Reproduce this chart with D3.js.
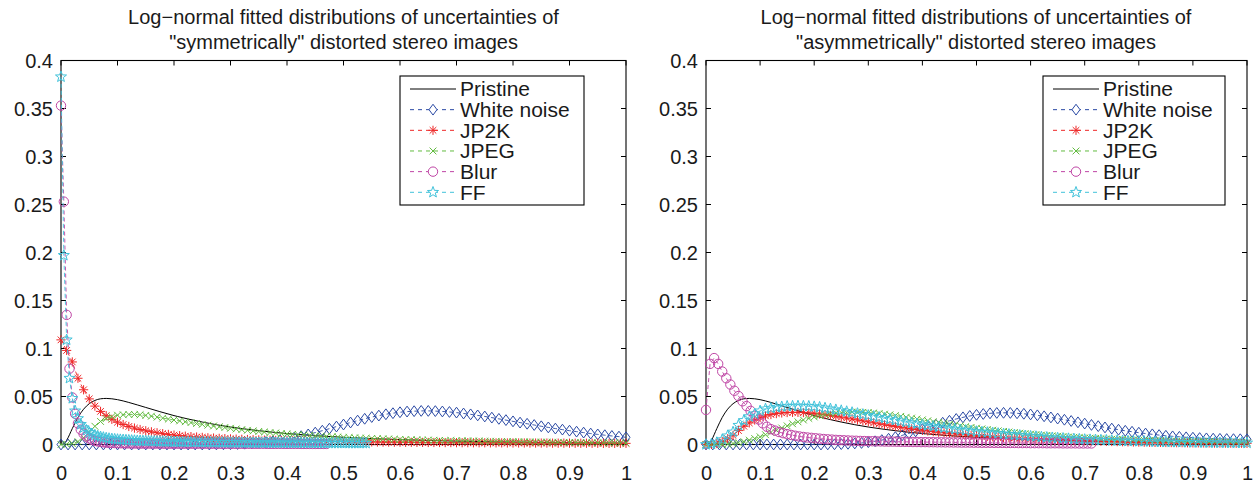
<!DOCTYPE html>
<html><head><meta charset="utf-8">
<script src="https://cdn.jsdelivr.net/npm/d3@7"></script>
<style>
body{margin:0;background:#fff}
text{font-family:"Liberation Sans",Arial,Helvetica,sans-serif;fill:#1a1a1a}
</style></head>
<body><svg id="chart" width="1255" height="487"></svg>
<script>
// ---------------- data ----------------
const seriesNames = ["Pristine","White noise","JP2K","JPEG","Blur","FF"];
const panelTitles = [
  ["Log\u2212normal fitted distributions of uncertainties of", "\"symmetrically\" distorted stereo images"],
  ["Log\u2212normal fitted distributions of uncertainties of", "\"asymmetrically\" distorted stereo images"]
];
const xTicks = [0,0.1,0.2,0.3,0.4,0.5,0.6,0.7,0.8,0.9,1];
const xTickLabels = ["0","0.1","0.2","0.3","0.4","0.5","0.6","0.7","0.8","0.9","1"];
const yTicks = [0,0.05,0.1,0.15,0.2,0.25,0.3,0.35,0.4];
const yTickLabels = ["0","0.05","0.1","0.15","0.2","0.25","0.3","0.35","0.4"];

// Pristine (solid line, no markers) - same in both panels
const pristineX = [0,0.005,0.01,0.02,0.03,0.04,0.05,0.06,0.07,0.08,0.1,0.12,0.15,0.2,0.25,0.3,0.35,0.4,0.5,0.6,0.7,0.8,0.9,1.0];
const pristineY = [0,0.0007,0.0044,0.0166,0.0282,0.0368,0.0425,0.0459,0.0476,0.048,0.0467,0.0438,0.0386,0.0301,0.0234,0.0182,0.0144,0.0114,0.0075,0.0051,0.0035,0.0025,0.0019,0.0014];

// sampling steps of the marker series [White noise, JP2K, JPEG, Blur, FF]
const symSteps  = [0.0125, 0.01, 0.01, 0.005, 0.005];
const asymSteps = [0.0125, 0.01, 0.01, 0.0075, 0.01];

// ---- "symmetrically" distorted ----
const symWhiteNoise = [
0,0,0,0,0,0,0,0,0,0,
0,0,0,0,0,0,0,0,0,0,
0,0,0.0001,0.0002,0.0003,0.0005,0.0008,0.0012,0.0018,0.0025,
0.0033,0.0044,0.0056,0.0071,0.0087,0.0105,0.0124,0.0144,0.0165,0.0187,
0.0208,0.0229,0.0249,0.0268,0.0286,0.0301,0.0315,0.0326,0.0336,0.0343,
0.0347,0.035,0.035,0.0348,0.0344,0.0339,0.0332,0.0323,0.0314,0.0303,
0.0292,0.028,0.0267,0.0254,0.0241,0.0228,0.0216,0.0203,0.019,0.0178,
0.0166,0.0155,0.0144,0.0134,0.0124,0.0114,0.0105,0.0097,0.0089,0.0082,
0.0075];
const symJP2K = [
0.109,0.098,0.086,0.069,0.057,0.0475,0.04,0.0345,0.03,0.0262,
0.0232,0.0208,0.0188,0.0171,0.0156,0.0143,0.0132,0.0122,0.0113,0.0105,
0.0098,0.0092,0.0087,0.0082,0.0078,0.0074,0.007,0.0067,0.0064,0.0061,
0.0058,0.0056,0.0054,0.0052,0.005,0.0048,0.0046,0.0045,0.0043,0.0042,
0.004,0.0039,0.0038,0.0037,0.0036,0.0035,0.0034,0.0033,0.0032,0.0031,
0.003,0.0029,0.0029,0.0028,0.0027,0.0027,0.0026,0.0025,0.0025,0.0024,
0.0024,0.0023,0.0023,0.0022,0.0022,0.0021,0.0021,0.0021,0.002,0.002,
0.0019,0.0019,0.0019,0.0018,0.0018,0.0018,0.0017,0.0017,0.0017,0.0016,
0.0016,0.0016,0.0016,0.0015,0.0015,0.0015,0.0015,0.0014,0.0014,0.0014,
0.0014,0.0013,0.0013,0.0013,0.0013,0.0013,0.0012,0.0012,0.0012,0.0012,
0.0012];
const symJPEG = [
0,0.0002,0.001,0.003,0.007,0.013,0.019,0.024,0.027,0.029,
0.0305,0.031,0.0313,0.0313,0.031,0.0303,0.0295,0.0285,0.0275,0.0265,
0.0255,0.0246,0.0237,0.0228,0.0219,0.021,0.0201,0.0193,0.0185,0.0177,
0.0169,0.0162,0.0155,0.0148,0.0142,0.0136,0.013,0.0125,0.012,0.0115,
0.011,0.0106,0.0102,0.0098,0.0094,0.009,0.0087,0.0084,0.0081,0.0078,
0.0075,0.0072,0.007,0.0067,0.0065,0.0063,0.0061,0.0059,0.0057,0.0055,
0.0053,0.0051,0.005,0.0048,0.0047,0.0046,0.0044,0.0043,0.0042,0.0041,
0.004,0.0039,0.0038,0.0037,0.0036,0.0035,0.0034,0.0033,0.0032,0.0031,
0.003,0.0029,0.0028,0.0027,0.0026,0.0025,0.0025,0.0024,0.0023,0.0022,
0.0022,0.0021,0.002,0.002,0.0019,0.0018,0.0018,0.0017,0.0017,0.0016,
0.0016];
const symBlur = [
0.353,0.253,0.135,0.079,0.049,0.032,0.022,0.0155,0.0112,0.0083,
0.0063,0.0049,0.0039,0.0032,0.0027,0.0023,0.002,0.0018,0.0016,0.0015,
0.0014,0.0013,0.0013,0.0012,0.0012,0.0011,0.0011,0.0011,0.001,0.001,
0.001,0.001,0.001,0.001,0.001,0.001,0.0009,0.0009,0.0009,0.0009,
0.0009,0.0009,0.0009,0.0009,0.0009,0.0009,0.0009,0.0009,0.0009,0.0009,
0.0009,0.0009,0.0009,0.0009,0.0008,0.0008,0.0008,0.0008,0.0008,0.0008,
0.0008,0.0008,0.0008,0.0008,0.0008,0.0008,0.0008,0.0008,0.0008,0.0008,
0.0008,0.0008,0.0008,0.0007,0.0007,0.0007,0.0007,0.0007,0.0007,0.0007,
0.0007,0.0007,0.0007,0.0007,0.0007,0.0006,0.0006,0.0006,0.0006,0.0006,
0.0006,0.0006,0.0006,0.0006,0.0006];
const symFF = [
0.383,0.197,0.109,0.069,0.048,0.035,0.027,0.021,0.0175,0.0148,
0.0125,0.011,0.0098,0.0088,0.008,0.0073,0.0067,0.0062,0.0058,0.0055,
0.0052,0.005,0.0048,0.0046,0.0044,0.0042,0.0041,0.0039,0.0038,0.0037,
0.0036,0.0035,0.0034,0.0033,0.0032,0.0031,0.0031,0.003,0.0029,0.0029,
0.0028,0.0028,0.0027,0.0027,0.0026,0.0026,0.0025,0.0025,0.0025,0.0024,
0.0024,0.0023,0.0023,0.0023,0.0022,0.0022,0.0022,0.0021,0.0021,0.0021,
0.0021,0.002,0.002,0.002,0.002,0.0019,0.0019,0.0019,0.0019,0.0018,
0.0018,0.0018,0.0018,0.0018,0.0017,0.0017,0.0017,0.0017,0.0017,0.0016,
0.0016,0.0016,0.0016,0.0016,0.0016,0.0015,0.0015,0.0015,0.0015,0.0015,
0.0015,0.0014,0.0014,0.0014,0.0014,0.0014,0.0014,0.0014,0.0014,0.0014,
0.0014,0.0014,0.0013,0.0013,0.0013,0.0013,0.0013,0.0013,0.0013];

// ---- "asymmetrically" distorted ----
const asymWhiteNoise = [
0,0,0,0,0,0,0,0,0,0,
0,0,0,0,0,0,0,0,0.0001,0.0002,
0.0004,0.0007,0.0011,0.0016,0.0024,0.0034,0.0046,0.006,0.0077,0.0095,
0.0116,0.0137,0.016,0.0183,0.0205,0.0227,0.0247,0.0266,0.0283,0.0297,
0.0309,0.0318,0.0325,0.0329,0.033,0.0329,0.0325,0.032,0.0313,0.0304,
0.0294,0.0282,0.027,0.0258,0.0245,0.0231,0.0218,0.0204,0.0191,0.0178,
0.0166,0.0154,0.0143,0.0133,0.0123,0.0114,0.0106,0.0098,0.0091,0.0085,
0.008,0.0075,0.0071,0.0067,0.0064,0.0061,0.0059,0.0057,0.0056,0.0055,
0.0054];
const asymJP2K = [
0,0.0002,0.001,0.003,0.006,0.0095,0.0145,0.019,0.0225,0.0255,
0.028,0.0298,0.0312,0.0322,0.0329,0.0333,0.0335,0.0335,0.0333,0.0329,
0.0324,0.0318,0.0311,0.0303,0.0294,0.0285,0.0276,0.0266,0.0256,0.0246,
0.0236,0.0226,0.0216,0.0206,0.0197,0.0188,0.0179,0.0171,0.0163,0.0155,
0.0148,0.0141,0.0134,0.0128,0.0122,0.0116,0.0111,0.0106,0.0101,0.0096,
0.0092,0.0088,0.0084,0.008,0.0076,0.0073,0.007,0.0067,0.0064,0.0061,
0.0058,0.0056,0.0053,0.0051,0.0049,0.0047,0.0045,0.0043,0.0041,0.004,
0.0038,0.0036,0.0035,0.0034,0.0032,0.0031,0.003,0.0029,0.0027,0.0026,
0.0025,0.0024,0.0023,0.0022,0.0022,0.0021,0.002,0.0019,0.0019,0.0018,
0.0017,0.0017,0.0016,0.0016,0.0015,0.0015,0.0014,0.0014,0.0013,0.0013,
0.0012];
const asymJPEG = [
0,0,0,0.0001,0.0004,0.001,0.0018,0.003,0.0045,0.0062,
0.008,0.0102,0.0125,0.0148,0.0172,0.0194,0.0216,0.0236,0.0255,0.0272,
0.0287,0.03,0.0311,0.032,0.0327,0.0332,0.0335,0.0337,0.0337,0.0335,
0.0332,0.0328,0.0322,0.0316,0.0309,0.0301,0.0293,0.0284,0.0275,0.0266,
0.0257,0.0247,0.0238,0.0229,0.022,0.0211,0.0202,0.0194,0.0186,0.0178,
0.017,0.0163,0.0156,0.0149,0.0142,0.0136,0.013,0.0124,0.0118,0.0113,
0.0108,0.0103,0.0098,0.0094,0.009,0.0086,0.0082,0.0078,0.0075,0.0072,
0.0069,0.0066,0.0063,0.006,0.0058,0.0055,0.0053,0.0051,0.0049,0.0047,
0.0045,0.0043,0.0041,0.004,0.0038,0.0037,0.0035,0.0034,0.0032,0.0031,
0.003,0.0029,0.0028,0.0027,0.0026,0.0025,0.0024,0.0023,0.0022,0.0021,
0.002];
const asymBlur = [
0.036,0.084,0.09,0.084,0.076,0.069,0.0625,0.056,0.0505,0.045,
0.04,0.035,0.03,0.026,0.022,0.0185,0.016,0.0145,0.013,0.0118,
0.0108,0.0099,0.0091,0.0084,0.0078,0.0073,0.0069,0.0065,0.0061,0.0057,
0.0054,0.0051,0.0048,0.0046,0.0044,0.0042,0.004,0.0039,0.0037,0.0036,
0.0035,0.0034,0.0033,0.0032,0.0031,0.003,0.003,0.0029,0.0028,0.0028,
0.0027,0.0026,0.0026,0.0025,0.0025,0.0024,0.0024,0.0023,0.0023,0.0022,
0.0022,0.0021,0.0021,0.002,0.002,0.002,0.0019,0.0019,0.0018,0.0018,
0.0018,0.0017,0.0017,0.0017,0.0016,0.0016,0.0016,0.0015,0.0015,0.0015,
0.0014,0.0014,0.0014,0.0014,0.0013,0.0013,0.0013,0.0013,0.0012,0.0012,
0.0012,0.0012,0.0011,0.0011,0.0011,0.0011];
const asymFF = [
0,0.0005,0.002,0.005,0.009,0.013,0.02,0.025,0.029,0.032,
0.035,0.037,0.0378,0.0387,0.0393,0.0398,0.04,0.0401,0.04,0.0398,
0.0394,0.0388,0.038,0.0371,0.0362,0.0353,0.0343,0.0333,0.0323,0.0313,
0.0303,0.0293,0.0283,0.0273,0.0263,0.0253,0.0243,0.0233,0.0224,0.0215,
0.0206,0.0197,0.0189,0.0181,0.0173,0.0165,0.0159,0.0153,0.0147,0.0141,
0.0135,0.013,0.0125,0.012,0.0115,0.011,0.0105,0.01,0.0095,0.009,
0.0086,0.0082,0.0078,0.0074,0.007,0.0067,0.0064,0.0061,0.0058,0.0055,
0.0052,0.005,0.0048,0.0046,0.0044,0.0042,0.004,0.0038,0.0036,0.0035,
0.0033,0.0032,0.003,0.0029,0.0027,0.0026,0.0025,0.0024,0.0023,0.0022,
0.0021,0.002,0.002,0.0019,0.0019,0.0018,0.0018,0.0017,0.0017,0.0016,
0.0016];

// ---------------- styles ----------------
const seriesColors = ["#000000","#2a49a4","#ee2626","#62bb40","#bf45a5","#40c2da"];

const markerTypes = {
  diamond: {draw(c){ c.moveTo(0,-5.4); c.lineTo(4,0); c.lineTo(0,5.4); c.lineTo(-4,0); c.closePath(); }},
  asterisk: {draw(c){ const r=4.6, d=3.3;
    c.moveTo(0,-r); c.lineTo(0,r); c.moveTo(-r,0); c.lineTo(r,0);
    c.moveTo(-d,-d); c.lineTo(d,d); c.moveTo(-d,d); c.lineTo(d,-d); }},
  cross: {draw(c){ const d=3.4; c.moveTo(-d,-d); c.lineTo(d,d); c.moveTo(-d,d); c.lineTo(d,-d); }},
  circle: {draw(c){ const r=4.7; c.moveTo(r,0); c.arc(0,0,r,0,2*Math.PI); }},
  pentagram: {draw(c){ const R=5.8, r=2.4;
    for(let i=0;i<10;i++){ const a=-Math.PI/2+i*Math.PI/5, rr=i%2?r:R;
      const px=rr*Math.cos(a), py=rr*Math.sin(a); if(i===0)c.moveTo(px,py); else c.lineTo(px,py);} c.closePath(); }}
};
const seriesMarkers = [null,"diamond","asterisk","cross","circle","pentagram"];

const panels = [
  {left:61, right:626, top:60.5, bottom:444.5, titleX:343.5, legend:{x:400,y:76,w:184,h:129},
   data:[symWhiteNoise,symJP2K,symJPEG,symBlur,symFF], steps:symSteps},
  {left:706, right:1247, top:60.5, bottom:444.5, titleX:976, legend:{x:1043,y:76,w:182,h:129},
   data:[asymWhiteNoise,asymJP2K,asymJPEG,asymBlur,asymFF], steps:asymSteps}
];

const svg = d3.select("#chart");

panels.forEach((p,pi)=>{
  const x = d3.scaleLinear().domain([0,1]).range([p.left,p.right]);
  const y = d3.scaleLinear().domain([0,0.4]).range([p.bottom,p.top]);
  const g = svg.append("g");

  // title
  const t = g.append("text").attr("x",p.titleX).attr("text-anchor","middle").style("font-size","20px");
  t.append("tspan").attr("x",p.titleX).attr("y",24).text(panelTitles[pi][0]);
  t.append("tspan").attr("x",p.titleX).attr("y",48.5).text(panelTitles[pi][1]);

  // axes (MATLAB style: ticks inside on all four sides)
  const tl = 5;
  const bottomAxis = d3.axisBottom(x).tickValues(xTicks).tickSize(0).tickPadding(0).tickFormat((d,i)=>xTickLabels[i]);
  const ax = g.append("g").attr("transform",`translate(0,${p.bottom})`).call(bottomAxis);
  ax.select(".domain").remove();
  ax.selectAll("text").attr("y",35).attr("dy",0).style("font-size","20px").style("font-family","Liberation Sans, Arial, sans-serif").attr("fill","#1a1a1a");
  const leftAxis = d3.axisLeft(y).tickValues(yTicks).tickSize(0).tickPadding(0).tickFormat((d,i)=>yTickLabels[i]);
  const ay = g.append("g").attr("transform",`translate(${p.left},0)`).call(leftAxis);
  ay.select(".domain").remove();
  ay.selectAll("text").attr("x",-8).attr("dy","0.35em").style("font-size","20px").style("font-family","Liberation Sans, Arial, sans-serif").attr("fill","#1a1a1a");

  const tickG = g.append("g").attr("stroke","#000").attr("stroke-width",1);
  xTicks.forEach(v=>{
    tickG.append("line").attr("x1",x(v)).attr("x2",x(v)).attr("y1",p.bottom).attr("y2",p.bottom-tl);
    tickG.append("line").attr("x1",x(v)).attr("x2",x(v)).attr("y1",p.top).attr("y2",p.top+tl);
  });
  yTicks.forEach(v=>{
    tickG.append("line").attr("y1",y(v)).attr("y2",y(v)).attr("x1",p.left).attr("x2",p.left+tl);
    tickG.append("line").attr("y1",y(v)).attr("y2",y(v)).attr("x1",p.right).attr("x2",p.right-tl);
  });
  g.append("rect").attr("x",p.left).attr("y",p.top).attr("width",p.right-p.left).attr("height",p.bottom-p.top)
    .attr("fill","none").attr("stroke","#000").attr("stroke-width",1.1);

  // pristine
  const pristine = pristineX.map((v,i)=>[v,pristineY[i]]);
  g.append("path").datum(pristine).attr("fill","none").attr("stroke","#000").attr("stroke-width",1)
    .attr("d",d3.line().x(d=>x(d[0])).y(d=>y(d[1])).curve(d3.curveMonotoneX));

  // marker series
  p.data.forEach((vals,si)=>{
    const col = seriesColors[si+1];
    const pts = vals.map((v,i)=>[i*p.steps[si],v]);
    g.append("path").datum(pts).attr("fill","none").attr("stroke",col).attr("stroke-width",0.9)
      .attr("stroke-dasharray","4,3").attr("d",d3.line().x(d=>x(d[0])).y(d=>y(d[1])));
    const sym = d3.symbol().type(markerTypes[seriesMarkers[si+1]]);
    g.append("g").selectAll("path").data(pts).join("path")
      .attr("transform",d=>`translate(${x(d[0])},${y(d[1])})`)
      .attr("d",sym).attr("fill","none").attr("stroke",col).attr("stroke-width",1);
  });

  // legend
  const L = p.legend;
  const lg = g.append("g");
  lg.append("rect").attr("x",L.x).attr("y",L.y).attr("width",L.w).attr("height",L.h).attr("fill","#fff").attr("stroke","#000").attr("stroke-width",1.1);
  seriesNames.forEach((name,i)=>{
    const cy = L.y + 13 + i*20.66;
    const x1 = L.x+10, x2 = L.x+56, mx = L.x+33;
    const col = seriesColors[i];
    lg.append("line").attr("x1",x1).attr("x2",x2).attr("y1",cy).attr("y2",cy).attr("stroke",col)
      .attr("stroke-width",1).attr("stroke-dasharray",i===0?null:"4,4");
    if(seriesMarkers[i]){
      lg.append("path").attr("transform",`translate(${mx},${cy})`).attr("d",d3.symbol().type(markerTypes[seriesMarkers[i]]))
        .attr("fill","#fff").attr("stroke",col).attr("stroke-width",1);
    }
    lg.append("text").attr("x",L.x+60).attr("y",cy).attr("dy","0.35em").style("font-size","21px").text(name);
  });
});
</script>
</body></html>
